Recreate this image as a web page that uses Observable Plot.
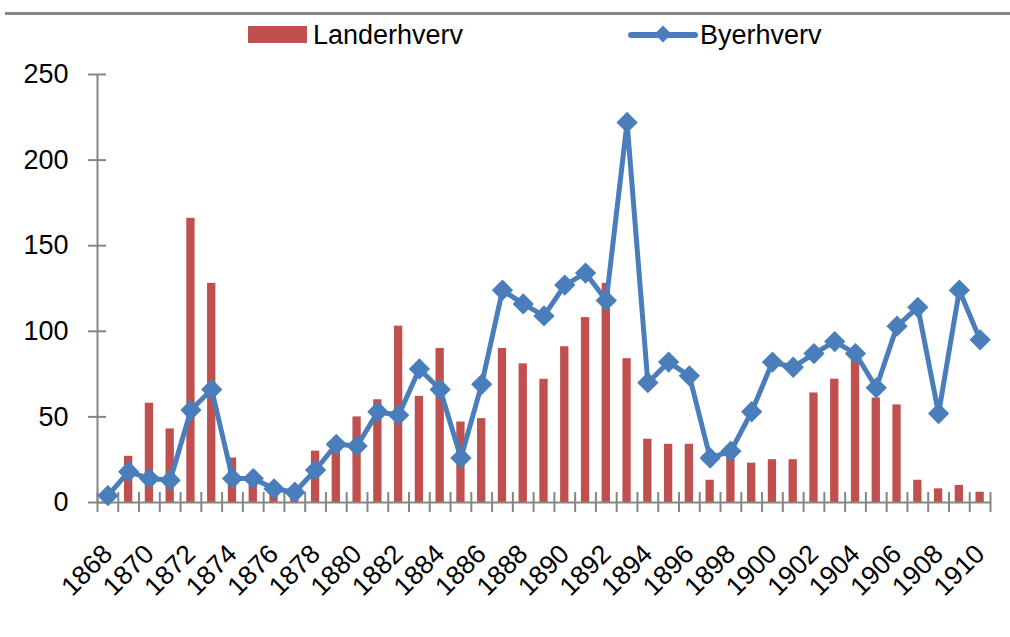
<!DOCTYPE html>
<html>
<head>
<meta charset="utf-8">
<script src="https://cdn.jsdelivr.net/npm/d3@7"></script>
<script src="https://cdn.jsdelivr.net/npm/@observablehq/plot@0.6"></script>
<style>
  html, body { margin: 0; padding: 0; background: #fff; }
  body { width: 1010px; height: 637px; overflow: hidden; font-family: "Liberation Sans", Arial, sans-serif; }
  #legend { position: relative; width: 1010px; height: 60px; }
  #topline { position: absolute; left: 5px; top: 12px; width: 1005px; height: 3px; background: #878787; }
  .lg-text { position: absolute; font-size: 27px; line-height: 27px; color: #000; white-space: nowrap; }
  #chart svg { display: block; }
</style>
</head>
<body>
<div id="legend">
  <div id="topline"></div>
  <div style="position:absolute; left:248px; top:26px; width:59px; height:17px; background:#c0504d;"></div>
  <div class="lg-text" style="left:313px; top:22px;">Landerhverv</div>
  <svg style="position:absolute; left:628px; top:22px;" width="72" height="28">
    <line x1="3" y1="13" x2="67" y2="13" stroke="#4a7ebb" stroke-width="6" stroke-linecap="round"></line>
    <rect x="29" y="6" width="12" height="12" fill="#4a7ebb" transform="rotate(45 35 12)"></rect>
  </svg>
  <div class="lg-text" style="left:700px; top:22px;">Byerhverv</div>
</div>
<div id="chart"></div>
<script>
const years = d3.range(1868, 1911);
const landerhverv = [3, 27, 58, 43, 166, 128, 26, 12, 5, 3, 30, 32, 50, 60, 103, 62, 90, 47, 49, 90, 81, 72, 91, 108, 128, 84, 37, 34, 34, 13, 28, 23, 25, 25, 64, 72, 83, 61, 57, 13, 8, 10, 6];
const byerhverv = [4, 18, 14, 13, 54, 66, 14, 14, 8, 6, 19, 34, 33, 53, 51, 78, 66, 26, 69, 124, 116, 109, 127, 134, 118, 222, 70, 82, 74, 26, 30, 53, 82, 79, 87, 94, 87, 67, 103, 114, 52, 124, 95];
const yTicks = [0, 50, 100, 150, 200, 250];
const xLabelYears = years.filter((y, i) => i % 2 === 0);

const data = years.map((year, i) => ({year, land: landerhverv[i], city: byerhverv[i]}));
const xMin = years[0] - 0.5;
const xMax = years[years.length - 1] + 0.5;
const boundaries = years.map(y => y - 0.5).concat([xMax]);
const axisColor = "#868686";
const font = "Liberation Sans, Arial, sans-serif";

const chart = Plot.plot({
  width: 1010,
  height: 577,
  marginTop: 14,
  marginBottom: 135,
  marginLeft: 97,
  marginRight: 20,
  style: {fontFamily: font, background: "#fff"},
  x: {type: "linear", domain: [xMin, xMax], axis: null},
  y: {domain: [0, 250], axis: null},
  marks: [
    Plot.rectY(data, {x1: d => d.year - 0.2, x2: d => d.year + 0.2, y: "land", fill: "#c0504d"}),
    Plot.ruleX([xMin], {y1: 0, y2: 250, stroke: axisColor, strokeWidth: 2}),
    Plot.ruleY(yTicks, {x1: xMin, x2: xMin, insetLeft: -9, insetRight: -9, stroke: axisColor, strokeWidth: 2}),
    Plot.ruleY([0], {x1: xMin, x2: xMax, stroke: axisColor, strokeWidth: 2}),
    Plot.ruleX(boundaries, {y1: 0, y2: 0, insetTop: -10, insetBottom: -10, stroke: axisColor, strokeWidth: 2}),
    Plot.line(data, {x: "year", y: "city", stroke: "#4a7ebb", strokeWidth: 5, strokeLinejoin: "round"}),
    Plot.dot(data, {x: "year", y: "city", symbol: "square", r: 8.5, rotate: 45, fill: "#4a7ebb", stroke: "none"}),
    Plot.text(yTicks, {x: xMin, y: d => d, text: d => String(d), textAnchor: "end", dx: -29, fontSize: 27, fill: "#000"}),
    Plot.text(xLabelYears, {x: d => d, y: 0, text: d => String(d), rotate: -45, textAnchor: "end", dx: 0, dy: 47, fontSize: 26.5, fill: "#000"})
  ]
});
document.getElementById("chart").appendChild(chart);
</script>
</body>
</html>
